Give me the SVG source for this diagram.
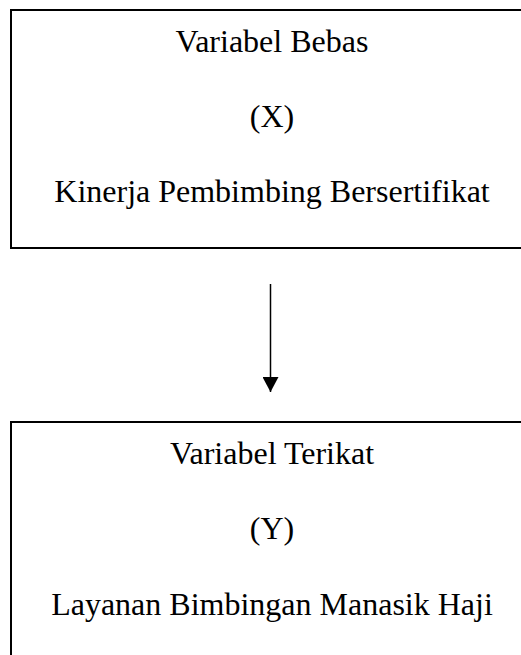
<svg xmlns="http://www.w3.org/2000/svg" width="521" height="655" viewBox="0 0 521 655">
<style>
.box{fill:#fff;stroke:#000;stroke-width:2}
.t{font-family:"Liberation Serif","Times New Roman",serif;font-size:32px;fill:#000;text-anchor:middle}
.con{stroke:#000;stroke-width:1.5;fill:none}
</style>
<defs>
<marker id="ah" markerWidth="15" markerHeight="16" refX="15" refY="8" orient="auto" markerUnits="userSpaceOnUse" viewBox="0 0 15 16">
<polygon points="0,0 15,8 0,16" fill="#000"/>
</marker>
</defs>
<rect width="521" height="655" fill="#fff"/>
<g id="nodeX">
<rect class="box" x="11" y="10" width="524" height="238"/>
<text class="t" x="272" y="52">Variabel Bebas</text>
<text class="t" x="272" y="127">(X)</text>
<text class="t" x="272" y="202">Kinerja Pembimbing Bersertifikat</text>
</g>
<g id="nodeY">
<rect class="box" x="11" y="422" width="524" height="260"/>
<text class="t" x="272" y="464">Variabel Terikat</text>
<text class="t" x="272" y="539">(Y)</text>
<text class="t" x="272" y="615">Layanan Bimbingan Manasik Haji</text>
</g>
<g id="connectors">
<line class="con" x1="270.5" y1="284" x2="270.5" y2="392" marker-end="url(#ah)"/>
</g>
</svg>
